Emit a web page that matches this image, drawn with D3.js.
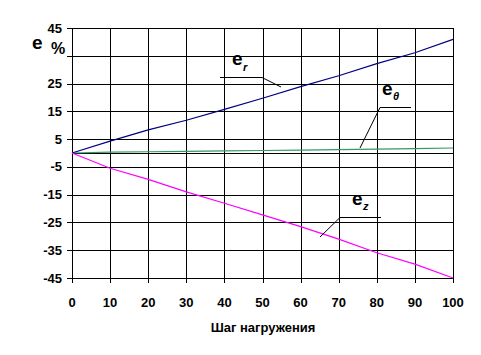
<!DOCTYPE html>
<html><head><meta charset="utf-8">
<script src="https://cdn.jsdelivr.net/npm/d3@7"></script>
<style>html,body{margin:0;padding:0;background:#fff}svg{display:block}</style>
</head><body>
<svg id="c" width="481" height="355"></svg>
<script>
const steps = [0, 10, 20, 30, 40, 50, 60, 70, 80, 90, 100];
const eR = [0, 4.3, 8.3, 11.8, 15.7, 19.7, 23.9, 27.8, 32.2, 36.1, 40.9];
const eTheta = [0, 0.3, 0.45, 0.6, 0.75, 0.9, 1.05, 1.2, 1.4, 1.55, 1.8];
const eZ = [0, -5.5, -9.5, -14, -18.1, -22.3, -26.5, -31, -35.9, -40, -45];
const yTicks = [45, 35, 25, 15, 5, -5, -15, -25, -35, -45];
const yTickLabels = ["45", "", "25", "15", "5", "-5", "-15", "-25", "-35", "-45"];
const xTicks = [0, 10, 20, 30, 40, 50, 60, 70, 80, 90, 100];
const xTitle = "Шаг нагружения";

const svg = d3.select("#c");
const x = d3.scaleLinear().domain([0, 100]).range([72, 453]);
const y = d3.scaleLinear().domain([-45, 45]).range([278, 28]);
const font = "'Liberation Sans', Arial, sans-serif";

// gridlines
const g = svg.append("g").attr("shape-rendering", "crispEdges");
g.selectAll(".hg").data(yTicks).join("line")
  .attr("x1", x(0) - 5).attr("x2", x(100))
  .attr("y1", d => Math.round(y(d)) + 0.5).attr("y2", d => Math.round(y(d)) + 0.5)
  .attr("stroke", "#000").attr("stroke-width", 1);
g.append("line").attr("x1", x(0)).attr("x2", x(100))
  .attr("y1", Math.round(y(0)) + 0.5).attr("y2", Math.round(y(0)) + 0.5)
  .attr("stroke", "#000");
g.selectAll(".vg").data(xTicks).join("line")
  .attr("x1", d => Math.round(x(d)) + 0.5).attr("x2", d => Math.round(x(d)) + 0.5)
  .attr("y1", y(45)).attr("y2", y(-45) + 5)
  .attr("stroke", "#000").attr("stroke-width", 1);

// tick labels
svg.selectAll(".yl").data(yTicks).join("text")
  .attr("x", 62).attr("y", d => y(d) + 4.5)
  .attr("text-anchor", "end").attr("font-family", font).attr("font-weight", "bold")
  .attr("font-size", 13).text((d, i) => yTickLabels[i]);
svg.selectAll(".xl").data(xTicks).join("text")
  .attr("x", d => x(d)).attr("y", 307)
  .attr("text-anchor", "middle").attr("font-family", font).attr("font-weight", "bold")
  .attr("font-size", 13).text(d => d);
svg.append("text").attr("x", 263).attr("y", 332).attr("text-anchor", "middle")
  .attr("font-family", font).attr("font-weight", "bold").attr("font-size", 13).text(xTitle);

// axis title
svg.append("text").attr("x", 32).attr("y", 49).attr("font-family", font)
  .attr("font-weight", "bold").attr("font-size", 19).text("e");
svg.append("text").attr("x", 51).attr("y", 54).attr("font-family", font)
  .attr("font-weight", "bold").attr("font-size", 16).text("%");

// series
const line = d3.line().x((d, i) => x(steps[i])).y(d => y(d));
svg.append("path").datum(eTheta).attr("d", line).attr("fill", "none")
  .attr("stroke", "#339966").attr("stroke-width", 1.2);
svg.append("path").datum(eR).attr("d", line).attr("fill", "none")
  .attr("stroke", "#000080").attr("stroke-width", 1.2);
svg.append("path").datum(eZ).attr("d", line).attr("fill", "none")
  .attr("stroke", "#FF00FF").attr("stroke-width", 1.2);

// labels with leaders
const labels = [
  {sub: "r", ex: 232, ey: 65, sx: 243, sy: 71, pts: [[220, 77.5], [262, 77.5], [281, 87]]},
  {sub: "θ", ex: 382, ey: 95, sx: 393, sy: 100, pts: [[411, 107.5], [380, 107.5], [360, 148]]},
  {sub: "z", ex: 352, ey: 205, sx: 363, sy: 210, pts: [[381, 217.5], [340, 217.5], [320, 237]]}
];
labels.forEach(l => {
  svg.append("path").attr("d", d3.line()(l.pts)).attr("fill", "none")
    .attr("stroke", "#000").attr("stroke-width", 1);
  svg.append("text").attr("x", l.ex).attr("y", l.ey).attr("font-family", font)
    .attr("font-weight", "bold").attr("font-size", 19).text("e");
  svg.append("text").attr("x", l.sx).attr("y", l.sy).attr("font-family", font)
    .attr("font-weight", "bold").attr("font-style", "italic").attr("font-size", 11).text(l.sub);
});
</script>
</body></html>
